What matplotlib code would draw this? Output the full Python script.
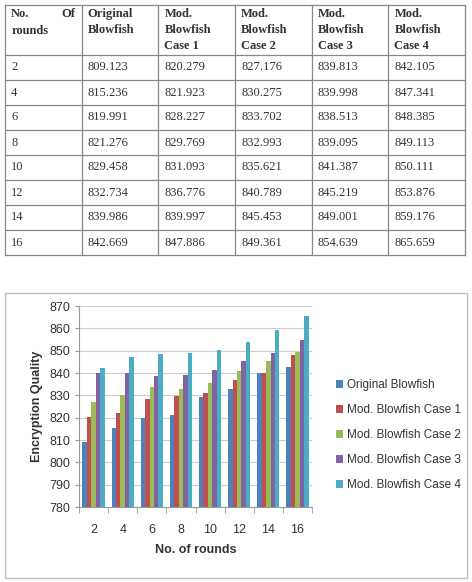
import matplotlib.pyplot as plt
from matplotlib.patches import Rectangle
import numpy as np

rounds = [2, 4, 6, 8, 10, 12, 14, 16]
series_names = ["Original Blowfish", "Mod. Blowfish Case 1", "Mod. Blowfish Case 2",
                "Mod. Blowfish Case 3", "Mod. Blowfish Case 4"]
header_labels = ["Original\nBlowfish", "Mod.\nBlowfish\nCase 1", "Mod.\nBlowfish\nCase 2",
                 "Mod.\nBlowfish\nCase 3", "Mod.\nBlowfish\nCase 4"]
original = [809.123, 815.236, 819.991, 821.276, 829.458, 832.734, 839.986, 842.669]
case1 = [820.279, 821.923, 828.227, 829.769, 831.093, 836.776, 839.997, 847.886]
case2 = [827.176, 830.275, 833.702, 832.993, 835.621, 840.789, 845.453, 849.361]
case3 = [839.813, 839.998, 838.513, 839.095, 841.387, 845.219, 849.001, 854.639]
case4 = [842.105, 847.341, 848.385, 849.113, 850.111, 853.876, 859.176, 865.659]
colors = ["#4F81BD", "#C0504D", "#9BBB59", "#8064A2", "#4BACC6"]

series = [original, case1, case2, case3, case4]

fig = plt.figure(figsize=(4.72, 5.82), dpi=100)

# ---- table ----
tax = fig.add_axes([5 / 472, 1 - 255 / 582, 460 / 472, 250 / 582])
ncol = 6
nrow = len(rounds)
tax.set_xlim(0, ncol)
tax.set_ylim(nrow + 2, 0)
tax.axis("off")
line_kw = dict(color="#888888", lw=0.9, clip_on=False)
for c in range(ncol + 1):
    tax.plot([c, c], [0, nrow + 2], **line_kw)
for r in [0, 2] + list(range(3, nrow + 3)):
    tax.plot([0, ncol], [r, r], **line_kw)

serif = "Liberation Serif"
tcol = "#333333"
hdr = dict(family=serif, fontsize=9, fontweight="bold", va="top", color=tcol, linespacing=1.45)
tax.text(0.08, 0.12, "No.", **hdr)
tax.text(0.92, 0.12, "Of", ha="right", **hdr)
tax.text(0.08, 0.78, "rounds", **hdr)
for j, lab in enumerate(header_labels):
    tax.text(j + 1 + 0.08, 0.12, lab, **hdr)
for i, rd in enumerate(rounds):
    y = 2 + i + 0.5
    tax.text(0.08, y, str(rd), family=serif, fontsize=9, va="center", color=tcol)
    for j, s in enumerate(series):
        tax.text(j + 1 + 0.08, y, f"{s[i]:.3f}", family=serif, fontsize=9, va="center", color=tcol)

# ---- chart ----
fig.patches.append(Rectangle((5 / 472, 1 - 578 / 582), 462 / 472, 285 / 582,
                             transform=fig.transFigure, fill=False, ec="#bbbbbb", lw=0.9))
ax = fig.add_axes([79 / 472, 1 - 507 / 582, 233 / 472, 201 / 582])
x = np.arange(len(rounds))
w = 0.152
for k, (s, name, col) in enumerate(zip(series, series_names, colors)):
    ax.bar(x + (k - 2) * w, np.array(s) - 780, bottom=780, width=w, color=col, label=name,
           zorder=3)

sans = "Liberation Sans"
ax.set_ylim(780, 870)
ax.set_yticks(range(780, 871, 10))
ax.set_xlim(-0.5, len(rounds) - 0.5)
ax.set_xticks(x)
ax.set_xticklabels([str(r) for r in rounds])
ax.set_xticks(np.arange(-0.5, len(rounds), 1), minor=True)
ax.tick_params(axis="x", which="major", length=0, pad=12, labelsize=9, labelcolor="#333333")
ax.tick_params(axis="x", which="minor", length=4, color="#999999")
ax.tick_params(axis="y", length=3, color="#999999", labelsize=9, labelcolor="#333333")
for lab in ax.get_xticklabels() + ax.get_yticklabels():
    lab.set_family(sans)
ax.grid(axis="y", color="#cccccc", lw=0.8, zorder=0)
for sp in ["top", "right"]:
    ax.spines[sp].set_visible(False)
for sp in ["left", "bottom"]:
    ax.spines[sp].set_color("#999999")
ax.set_xlabel("No. of rounds", family=sans, fontsize=9, fontweight="bold", color="#333333",
              labelpad=6)
ax.set_ylabel("Encryption Quality", family=sans, fontsize=9, fontweight="bold", color="#333333",
              labelpad=4)

fig.legend(loc="center left", bbox_to_anchor=(325 / 472, 1 - 435 / 582), frameon=False,
           handlelength=0.6, handleheight=0.6, handletextpad=0.4, labelspacing=1.1,
           prop={"family": sans, "size": 8.5}, labelcolor="#333333")

fig.savefig("out.png", dpi=100)
